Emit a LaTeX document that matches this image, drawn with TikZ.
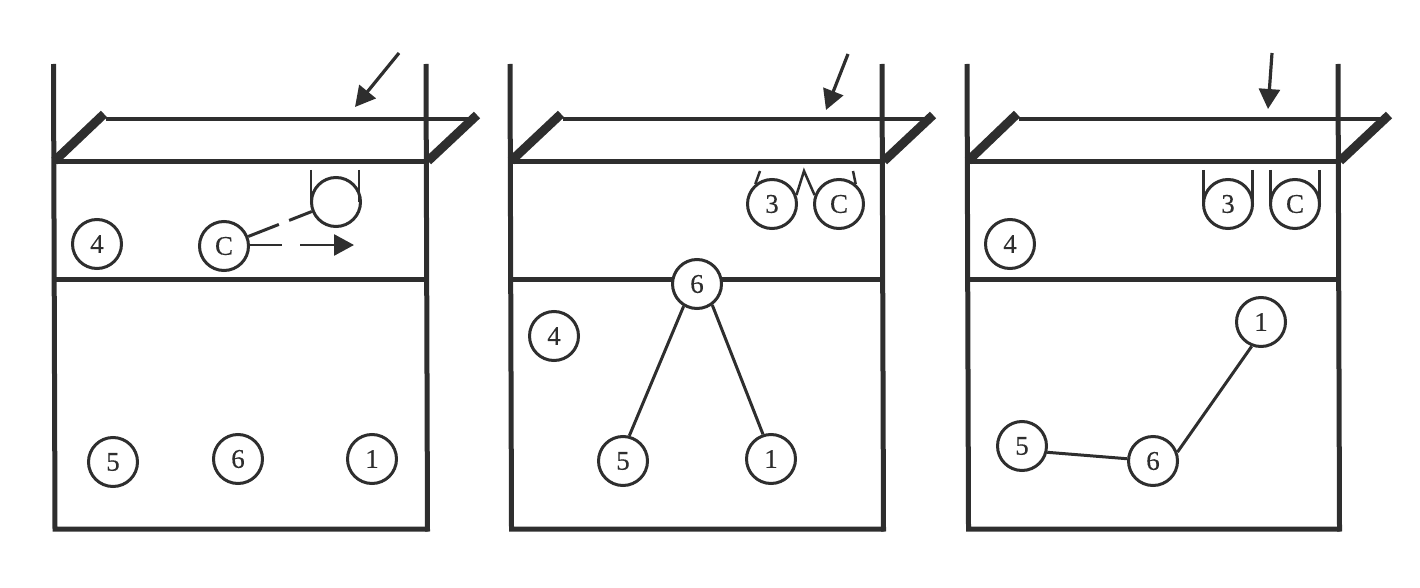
\documentclass[tikz,border=0pt]{standalone}
\usepackage{fontspec}
\setmainfont[FakeBold=0.3]{Liberation Serif}
\usetikzlibrary{arrows.meta}
\tikzset{
  x=1pt,y=-1pt,
  court/.style={line width=5pt,draw=black!82,line cap=butt},
  courtthin/.style={line width=4.6pt,draw=black!82},
  antenna/.style={line width=9pt,draw=black!82,line cap=butt},
  player/.style={circle,draw=black!82,line width=3pt,fill=white,minimum size=49pt,inner sep=0pt,font=\fontsize{27}{27}\selectfont,text=black!82},
  link/.style={line width=3pt,draw=black!82},
  ublock/.style={line width=2.5pt,draw=black!82},
  serve/.style={line width=3.2pt,draw=black!82,-{Triangle[length=20pt,width=21pt]}},
  move/.style={line width=2.8pt,draw=black!82,dash pattern=on 33pt off 18pt on 100pt,-{Triangle[length=20pt,width=21pt]}},
  feed/.style={line width=3pt,draw=black!82,dash pattern=on 33pt off 11pt on 100pt}
}
\begin{document}
\begin{tikzpicture}
\useasboundingbox (0,0) rectangle (1420,588);
% panel frames
\foreach \l/\r/\tl/\tr/\ta in {53.5/426/106/472/104, 510/882/563/929/561, 967/1338/1019/1382/1017}{
  \draw[court] (\l,64) -- (\l+1.5,529) -- (\r+1.5,529);
  \draw[court] (\r,64) -- (\r+1.5,531.5);
  \draw[court] (\l,162) -- (\r,162);
  \draw[court] (\l,279) -- (\r,279);
  \draw[courtthin] (\tl,119) -- (\tr,119);
  \draw[antenna] (\l+1,161) -- (\ta,114);
  \draw[antenna] (\r+2,161) -- (\r+51,115);
}
% panel 1
\coordinate (a1s) at (399,53); \coordinate (a1e) at (355,107);
\draw[serve] (a1s) -- (a1e);
\node[player] (p1d) at (97,244) {4};
\node[player] (p1c) at (224,246) {C};
\node[player] (p1b) at (336,202) {};
\node[player] (p1e) at (113,462) {5};
\node[player] (p1f) at (238,459) {6};
\node[player] (p1a) at (372,459) {1};
\coordinate (p1bl) at (311,170); \coordinate (p1bla) at (311,202);
\coordinate (p1br) at (359,170); \coordinate (p1bra) at (359,202);
\draw[ublock] (p1bl) -- (p1bla);
\draw[ublock] (p1br) -- (p1bra);
\draw[feed] (p1c) -- (p1b);
\coordinate (m1s) at (249,245);
\coordinate (m1) at (354,245);
\draw[move] (m1s) -- (m1);
% panel 2
\coordinate (a2s) at (848,54); \coordinate (a2e) at (826,110);
\draw[serve] (a2s) -- (a2e);
\node[player] (p2c) at (772,204) {3};
\node[player] (p2m) at (839,204) {C};
\node[player] (p2f) at (697,284) {6};
\node[player] (p2d) at (554,336) {4};
\node[player] (p2e) at (623,461) {5};
\node[player] (p2a) at (771,459) {1};
\draw[link] (p2f.239) -- (p2e.76);
\draw[link] (p2f.306) -- (p2a.108);
\coordinate (t1) at (760,171); \coordinate (t2) at (804,171); \coordinate (t3) at (853,171);
\draw[ublock] (t1) -- (p2c.130);
\draw[ublock,line join=miter] (p2c.20) -- (t2) -- (p2m.160);
\draw[ublock] (t3) -- (p2m.50);
% panel 3
\coordinate (a3s) at (1272,53); \coordinate (a3e) at (1268,109);
\draw[serve] (a3s) -- (a3e);
\node[player] (p3c) at (1228,204) {3};
\node[player] (p3m) at (1295,204) {C};
\node[player] (p3d) at (1010,244) {4};
\node[player] (p3a) at (1261,322) {1};
\node[player] (p3e) at (1022,446) {5};
\node[player] (p3f) at (1153,461) {6};
\foreach \x in {1203.5,1252.5,1270.5,1319.5}{
  \draw[ublock] (\x,170) -- (\x,204);
}
\draw[link] (p3e.346) -- (p3f.175);
\draw[link] (p3f.20) -- (p3a.249);
\end{tikzpicture}
\end{document}
